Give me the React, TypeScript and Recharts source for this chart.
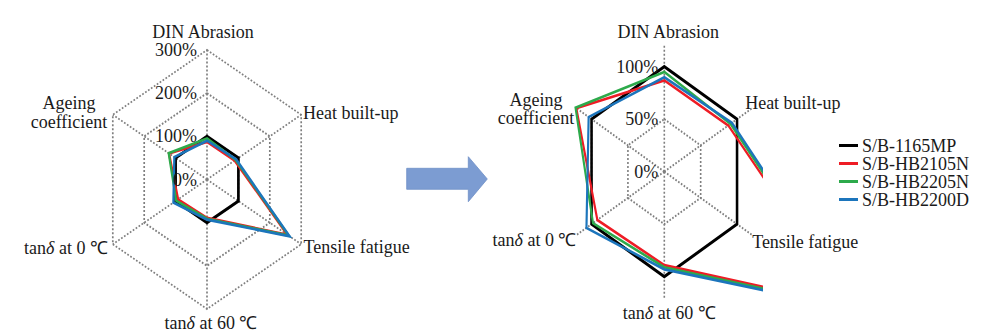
import { PolarAngleAxis, PolarGrid, PolarRadiusAxis, Radar, RadarChart } from 'recharts';

// data (percent relative to S/B-1165MP)
const categories = [
  'DIN Abrasion',
  'Heat built-up',
  'Tensile fatigue',
  'tanδ at 60 ℃',
  'tanδ at 0 ℃',
  'Ageing coefficient',
];
const seriesNames = ['S/B-1165MP', 'S/B-HB2105N', 'S/B-HB2205N', 'S/B-HB2200D'];
const sb1165mp = [100, 100, 100, 100, 100, 100];
const hb2105n = [87, 88, 256, 89, 92, 121];
const hb2205n = [95, 91, 260, 91, 98, 122];
const hb2200d = [90, 93, 263, 93, 107, 104];
const leftTicks = [0, 100, 200, 300];
const rightTicks = [0, 50, 100];

const seriesValues = [sb1165mp, hb2105n, hb2205n, hb2200d];
const COLORS = ['#000000', '#ee1c25', '#2daa4b', '#1c75bc'];
const WIDTHS = [3.2, 2.7, 2.7, 2.7];
const SERIF = '"Liberation Serif", "Times New Roman", serif';
const INK = '#1a1a1a';
const GRID = '#7f7f7f';

const data = categories.map((c, i) => {
  const row: Record<string, string | number> = { name: c };
  seriesNames.forEach((s, k) => {
    row[s] = seriesValues[k][i];
  });
  return row;
});

// the figure is squeezed horizontally; charts are scaled, text is scaled back
const L_SX = 0.84;
const L_CX = 207;
const L_CY = 179.5;
const R_LEFT = 480;
const R_SX = 0.8;
const R_CX = 664.3;
const R_CY = 171.7;
const R_CLIP = (763 - R_LEFT) / R_SX;

type Place = { dx: number; dy: number; anchor: 'start' | 'middle' | 'end'; wrap?: boolean };

const leftPlaces: Place[] = [
  { dx: -4, dy: -10.5, anchor: 'middle' },
  { dx: -4, dy: 2, anchor: 'start' },
  { dx: -3.5, dy: -1, anchor: 'start' },
  { dx: 4, dy: 6, anchor: 'middle' },
  { dx: 1, dy: 0, anchor: 'end' },
  { dx: -38, dy: -7.75, anchor: 'middle', wrap: true },
];
const rightPlaces: Place[] = [
  { dx: 4, dy: -6, anchor: 'middle' },
  { dx: -12, dy: -1.7, anchor: 'start' },
  { dx: -5, dy: 3.3, anchor: 'start' },
  { dx: 5, dy: 7.3, anchor: 'middle' },
  { dx: 5, dy: 1.3, anchor: 'end' },
  { dx: -35.5, dy: -4.7, anchor: 'middle', wrap: true },
];

function withDelta(s: string) {
  const i = s.indexOf('δ');
  if (i < 0) return s;
  return (
    <>
      {s.slice(0, i)}
      <tspan fontStyle="italic">δ</tspan>
      {s.slice(i + 1)}
    </>
  );
}

function angleTick(sx: number, places: Place[]) {
  return (props: any) => {
    const { x, y, payload } = props;
    const idx = categories.indexOf(payload.value);
    const p = places[idx] ?? { dx: 0, dy: 0, anchor: 'middle' };
    const lines: string[] = p.wrap ? String(payload.value).split(' ') : [String(payload.value)];
    return (
      <g transform={`translate(${x},${y}) scale(${1 / sx},1)`}>
        {lines.map((ln, k) => (
          <text
            key={k}
            x={p.dx}
            y={p.dy + k * 18.5 + 6}
            textAnchor={p.anchor}
            fontFamily={SERIF}
            fontSize={18}
            fill={INK}
          >
            {withDelta(ln)}
          </text>
        ))}
      </g>
    );
  };
}

function radiusTick(sx: number, dx: number) {
  return (props: any) => {
    const { x, y, payload } = props;
    return (
      <g transform={`translate(${x},${y}) scale(${1 / sx},1)`}>
        <text x={dx} y={6} textAnchor="end" fontFamily={SERIF} fontSize={18} fill={INK}>
          {`${payload.value}%`}
        </text>
      </g>
    );
  };
}

function lineShape(clipId?: string) {
  return (props: any) => {
    const pts = (props.points || []).map((p: any) => `${p.x},${p.y}`).join(' ');
    return (
      <g>
        {clipId && (
          <defs>
            <clipPath id={clipId}>
              <rect x={0} y={0} width={R_CLIP} height={336} />
            </clipPath>
          </defs>
        )}
        <polygon
          points={pts}
          fill="none"
          stroke={props.stroke}
          strokeWidth={props.strokeWidth}
          strokeLinejoin="miter"
          clipPath={clipId ? `url(#${clipId})` : undefined}
        />
      </g>
    );
  };
}

function LeftChart() {
  return (
    <div
      style={{
        position: 'absolute',
        left: 0,
        top: 0,
        width: 500,
        height: 336,
        transform: `scaleX(${L_SX})`,
        transformOrigin: '0 0',
      }}
    >
      <RadarChart
        width={500}
        height={336}
        cx={L_CX / L_SX}
        cy={L_CY}
        outerRadius={129.5}
        data={data}
        margin={{ top: 0, right: 0, bottom: 0, left: 0 }}
      >
        <PolarGrid stroke={GRID} strokeWidth={2} strokeDasharray="2 2" />
        <PolarAngleAxis dataKey="name" tickLine={false} axisLine={false} tick={angleTick(L_SX, leftPlaces)} />
        <PolarRadiusAxis
          angle={90}
          domain={[0, 300]}
          ticks={leftTicks as any}
          tickCount={4}
          axisLine={false}
          tickLine={false}
          tick={radiusTick(L_SX, -10)}
        />
        {seriesNames.map((s, k) => (
          <Radar
            key={s}
            dataKey={s}
            stroke={COLORS[k]}
            strokeWidth={WIDTHS[k]}
            fill="none"
            fillOpacity={0}
            dot={false}
            shape={lineShape()}
            isAnimationActive={false}
          />
        ))}
      </RadarChart>
    </div>
  );
}

function RightChart() {
  return (
    <div
      style={{
        position: 'absolute',
        left: R_LEFT,
        top: 0,
        width: 500,
        height: 336,
        transform: `scaleX(${R_SX})`,
        transformOrigin: '0 0',
      }}
    >
      <RadarChart
        width={500}
        height={336}
        cx={(R_CX - R_LEFT) / R_SX}
        cy={R_CY}
        outerRadius={126}
        data={data}
        margin={{ top: 0, right: 0, bottom: 0, left: 0 }}
      >
        <PolarGrid stroke={GRID} strokeWidth={2} strokeDasharray="2 2" />
        <PolarAngleAxis dataKey="name" tickLine={false} axisLine={false} tick={angleTick(R_SX, rightPlaces)} />
        <PolarRadiusAxis
          angle={90}
          domain={[0, 120]}
          allowDataOverflow
          ticks={rightTicks as any}
          axisLine={false}
          tickLine={false}
          tick={radiusTick(R_SX, -6)}
        />
        {seriesNames.map((s, k) => (
          <Radar
            key={s}
            dataKey={s}
            stroke={COLORS[k]}
            strokeWidth={WIDTHS[k]}
            fill="none"
            fillOpacity={0}
            dot={false}
            shape={lineShape(`rclip-${k}`)}
            isAnimationActive={false}
          />
        ))}
      </RadarChart>
    </div>
  );
}

function Legend() {
  return (
    <svg style={{ position: 'absolute', left: 836, top: 134 }} width={164} height={80}>
      {seriesNames.map((s, k) => (
        <g key={s}>
          <line x1={3} x2={22} y1={11.5 + k * 18} y2={11.5 + k * 18} stroke={COLORS[k]} strokeWidth={3} />
          <text x={26} y={17.5 + k * 18} fontFamily={SERIF} fontSize={18} fill={INK}>
            {s}
          </text>
        </g>
      ))}
    </svg>
  );
}

function Arrow() {
  return (
    <svg style={{ position: 'absolute', left: 400, top: 150 }} width={95} height={60}>
      <polygon
        points="6.7,18.3 68.3,18.3 68.3,6.7 87.3,29 68.3,51.7 68.3,39.3 6.7,39.3"
        fill="#7c9cd2"
        stroke="#6f8fc6"
        strokeWidth={0.8}
      />
    </svg>
  );
}

export default function App() {
  return (
    <div
      style={{
        position: 'absolute',
        left: 0,
        top: 0,
        width: 1000,
        height: 336,
        background: '#fff',
        overflow: 'hidden',
      }}
    >
      <LeftChart />
      <Arrow />
      <RightChart />
      <Legend />
    </div>
  );
}
